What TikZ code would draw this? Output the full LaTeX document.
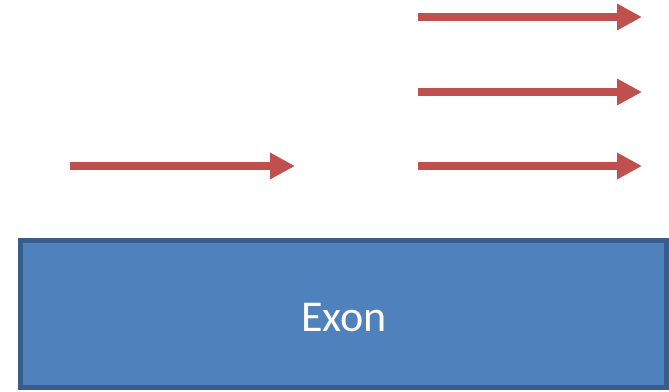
\documentclass[tikz,border=0pt]{standalone}
\usepackage{fontspec}
\setmainfont{Carlito}
\usetikzlibrary{arrows.meta}
\definecolor{arrred}{HTML}{C0504D}
\definecolor{exfill}{HTML}{4F81BD}
\definecolor{exdraw}{HTML}{385D8A}
\begin{document}
\begin{tikzpicture}[x=1pt,y=-1pt,
  readarrow/.style={draw=arrred,line width=8pt,-{Triangle[length=25pt,width=25pt]}},
  exonbox/.style={draw=exdraw,fill=exfill,line width=5pt}]
\useasboundingbox (0,0) rectangle (669,391);
\coordinate (a1s) at (70,166);  \coordinate (a1e) at (295,166);
\coordinate (a2s) at (418,166); \coordinate (a2e) at (642,166);
\coordinate (a3s) at (418,92);  \coordinate (a3e) at (642,92);
\coordinate (a4s) at (418,17);  \coordinate (a4e) at (642,17);
\draw[readarrow] (a1s) -- (a1e);
\draw[readarrow] (a2s) -- (a2e);
\draw[readarrow] (a3s) -- (a3e);
\draw[readarrow] (a4s) -- (a4e);
\draw[exonbox] (20.5,240.5) rectangle (666,387);
\node[text=white,font=\fontsize{44}{52}\selectfont,inner sep=0pt] (exon) at (344,318) {Exon};
\end{tikzpicture}
\end{document}
